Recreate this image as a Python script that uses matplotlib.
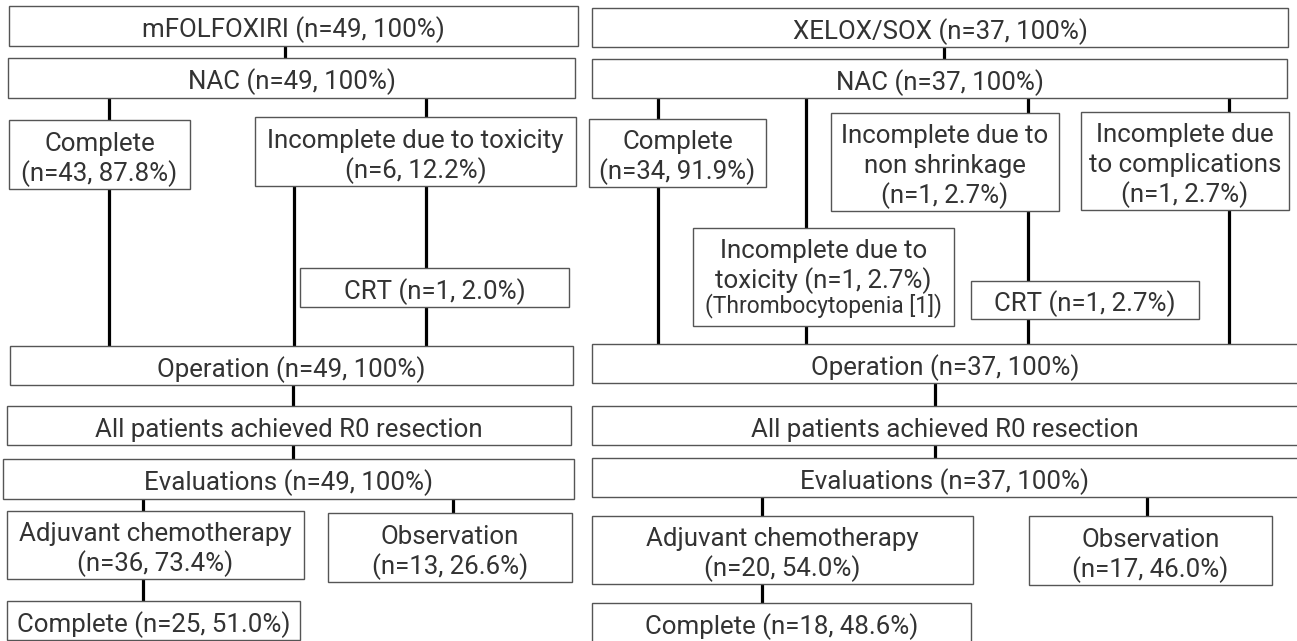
import matplotlib
matplotlib.use("Agg")
import matplotlib.pyplot as plt
from matplotlib.patches import Rectangle

plt.rcParams['font.family'] = ['Roboto', 'DejaVu Sans']

# ---------------- data (texts) ----------------
left_labels = [
    "mFOLFOXIRI (n=49, 100%)",
    "NAC (n=49, 100%)",
    "Complete\n(n=43, 87.8%)",
    "Incomplete due to toxicity\n(n=6, 12.2%)",
    "CRT (n=1, 2.0%)",
    "Operation (n=49, 100%)",
    "All patients achieved R0 resection",
    "Evaluations (n=49, 100%)",
    "Adjuvant chemotherapy\n(n=36, 73.4%)",
    "Observation\n(n=13, 26.6%)",
    "Complete (n=25, 51.0%)",
]
right_labels = [
    "XELOX/SOX (n=37, 100%)",
    "NAC (n=37, 100%)",
    "Complete\n(n=34, 91.9%)",
    "Incomplete due to\ntoxicity (n=1, 2.7%)",
    "Incomplete due to\nnon shrinkage\n(n=1, 2.7%)",
    "Incomplete due\nto complications\n(n=1, 2.7%)",
    "CRT (n=1, 2.7%)",
    "Operation (n=37, 100%)",
    "All patients achieved R0 resection",
    "Evaluations (n=37, 100%)",
    "Adjuvant chemotherapy\n(n=20, 54.0%)",
    "Observation\n(n=17, 46.0%)",
    "Complete (n=18, 48.6%)",
]
right_note = "(Thrombocytopenia [1])"

# ---------------- layout (pixel boxes x0, y0, x1, y1) ----------------
left_boxes = [
    (9, 6, 578, 46),
    (8, 58, 575, 98),
    (9, 120, 190, 189),
    (255, 117, 576, 186),
    (300, 268, 569, 307),
    (10, 346, 573, 385),
    (7, 406, 571, 445),
    (3, 459, 574, 499),
    (7, 511, 304, 579),
    (328, 513, 572, 582),
    (7, 601, 300, 640),
]
right_boxes = [
    (592, 8, 1288, 47),
    (592, 59, 1287, 98),
    (589, 119, 766, 187),
    (693, 228, 954, 326),
    (831, 113, 1059, 211),
    (1081, 112, 1289, 210),
    (971, 281, 1199, 319),
    (592, 344, 1298, 383),
    (592, 406, 1298, 445),
    (592, 458, 1298, 497),
    (592, 516, 973, 584),
    (1029, 516, 1272, 585),
    (592, 603, 971, 643),
]
# vertical connectors (x, y_top, y_bottom)
connectors = [
    (285, 46, 58), (109, 98, 346), (426, 98, 346), (294, 186, 346),
    (293, 385, 459), (143, 499, 601), (453, 499, 513),
    (944, 47, 59), (658, 98, 344), (806, 98, 344), (1028, 98, 344),
    (1229, 98, 344), (935, 383, 458), (762, 497, 603), (1147, 497, 516),
]

W, H = 1297, 641
fig = plt.figure(figsize=(W / 100, H / 100), dpi=100)
ax = fig.add_axes([0, 0, 1, 1])
ax.set_xlim(0, W)
ax.set_ylim(H, 0)
ax.axis('off')

WEIGHT = 'normal'
# fit the font so that the title text has about the reference width
probe = ax.text(0, 0, left_labels[0], fontsize=10, fontweight=WEIGHT)
fig.canvas.draw()
wpx = probe.get_window_extent().width
probe.remove()
FS = 10 * 302 / wpx
TXT = '#333333'
EDGE = '#555555'
PITCH = 30.0

for x, y0, y1 in connectors:
    ax.plot([x, x], [y0, y1], color='black', lw=2.3, solid_capstyle='butt', zorder=1)


def put_lines(cx, centers, lines, sizes):
    for yc, ln, s in zip(centers, lines, sizes):
        ax.text(cx, yc + 0.37 * s * 100 / 72 + 1.5, ln, ha='center', va='baseline',
                fontsize=s, fontweight=WEIGHT, color=TXT, zorder=3)


def draw_box(b, label):
    x0, y0, x1, y1 = b
    ax.add_patch(Rectangle((x0, y0), x1 - x0, y1 - y0, facecolor='white',
                           edgecolor=EDGE, lw=1.0, zorder=2))
    lines = label.split('\n')
    n = len(lines)
    c = (y0 + y1) / 2
    centers = [c + (i - (n - 1) / 2) * PITCH for i in range(n)]
    put_lines((x0 + x1) / 2, centers, lines, [FS] * n)


for b, lab in zip(left_boxes, left_labels):
    draw_box(b, lab)
for i, (b, lab) in enumerate(zip(right_boxes, right_labels)):
    if i == 3:
        x0, y0, x1, y1 = b
        ax.add_patch(Rectangle((x0, y0), x1 - x0, y1 - y0, facecolor='white',
                               edgecolor=EDGE, lw=1.0, zorder=2))
        lines = lab.split('\n') + [right_note]
        put_lines((x0 + x1) / 2, [y0 + 19, y0 + 49, y0 + 75], lines,
                  [FS, FS, FS * 0.88])
    else:
        draw_box(b, lab)

fig.savefig('out.png', dpi=100, facecolor='white')
